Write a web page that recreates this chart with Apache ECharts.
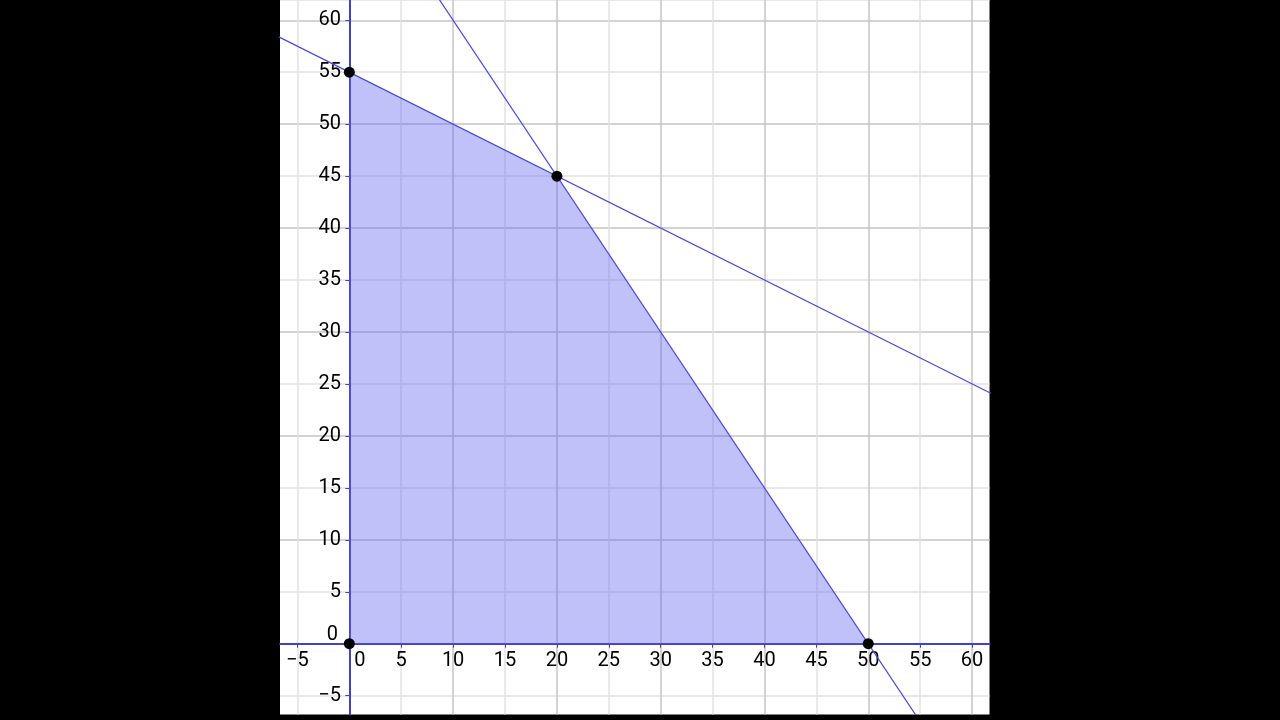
<!DOCTYPE html>
<html>
<head>
<meta charset="utf-8">
<script src="https://cdn.jsdelivr.net/npm/echarts@6/dist/echarts.min.js"></script>
<style>
  html, body { margin: 0; padding: 0; background: #000; }
</style>
</head>
<body>
<div id="chart" style="width: 1280px;height: 720px"></div>
<script>
// feasible region corners (x, y)
const regionTop = [[0, 55], [20, 45], [50, 0]];
const cornerPoints = [[0, 0], [0, 55], [20, 45], [50, 0]];
// constraint lines, y = 55 - 0.5x and y = 75 - 1.5x (ends fall outside the view)
const line1 = [[-10, 60], [70, 20]];
const line2 = [[0, 75], [60, -15]];
// visible window
const xRange = [-6.68, 61.68];
const yRange = [-6.81, 61.95];

const chart = echarts.init(document.getElementById('chart'));

function fmt(v) {
  if (v === 0) return '{z|0}';
  return String(v).replace('-', '\u2212');
}

const labelStyle = {
  color: '#000',
  fontSize: 20,
  fontFamily: 'Roboto',
};

// v6 keeps labels on the grid edge even with onZero, so pull them in with a negative margin
const option = {
  backgroundColor: '#000',
  animation: false,
  grid: {
    left: 280,
    right: 290.5,
    top: 0,
    bottom: 5.5,
    outerBoundsMode: 'none',
    containLabel: false,
    show: true,
    backgroundColor: '#fff',
    borderWidth: 0,
  },
  xAxis: {
    type: 'value',
    min: xRange[0],
    max: xRange[1],
    splitNumber: 13,
    minInterval: 5,
    maxInterval: 5,
    axisLine: {
      onZero: true,
      lineStyle: { color: '#4040cc', width: 2 },
    },
    axisTick: { show: true, length: 4, lineStyle: { color: '#4040cc' } },
    axisLabel: {
      ...labelStyle,
      margin: -64,
      showMinLabel: false,
      showMaxLabel: false,
      formatter: fmt,
      rich: { z: { ...labelStyle, padding: [0, 0, 0, 21] } },
    },
    splitLine: {
      show: true,
      showMinLine: false,
      showMaxLine: false,
      lineStyle: { color: ['#e2e2e2', '#c4c4c4'], width: 1.5 },
    },
  },
  yAxis: {
    type: 'value',
    min: yRange[0],
    max: yRange[1],
    splitNumber: 13,
    minInterval: 5,
    maxInterval: 5,
    axisLine: {
      onZero: true,
      lineStyle: { color: '#4040cc', width: 2 },
    },
    axisTick: { show: true, length: 4, lineStyle: { color: '#4040cc' } },
    axisLabel: {
      ...labelStyle,
      margin: -61,
      showMinLabel: false,
      showMaxLabel: false,
      formatter: fmt,
      rich: { z: { ...labelStyle, padding: [0, 3, 18, 0] } },
    },
    splitLine: {
      show: true,
      showMinLine: false,
      lineStyle: { color: ['#e2e2e2', '#c4c4c4'], width: 1.5 },
    },
  },
  series: [
    {
      type: 'line',
      data: regionTop,
      symbol: 'none',
      lineStyle: { width: 0 },
      areaStyle: { color: 'rgba(100, 100, 240, 0.4)', opacity: 1, origin: 'auto' },
      z: 1,
    },
    {
      type: 'line',
      data: line1,
      symbol: 'none',
      lineStyle: { color: '#4848e0', width: 1.2 },
      z: 2,
    },
    {
      type: 'line',
      data: line2,
      symbol: 'none',
      lineStyle: { color: '#4848e0', width: 1.2 },
      z: 2,
    },
    {
      type: 'scatter',
      data: cornerPoints,
      symbolSize: 11,
      itemStyle: { color: '#000', opacity: 1 },
      z: 5,
    },
  ],
};
chart.setOption(option, true);
</script>
</body>
</html>
